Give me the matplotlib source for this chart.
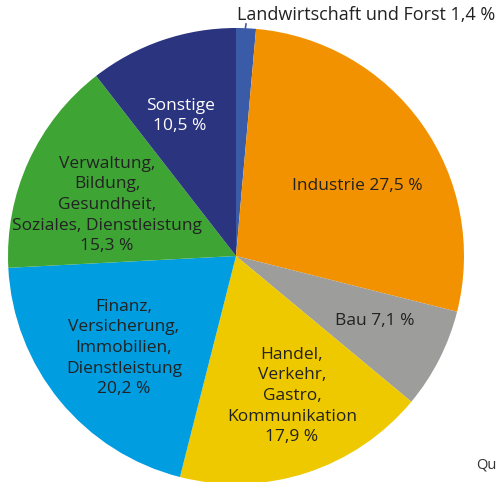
import matplotlib
matplotlib.use("Agg")
import matplotlib.pyplot as plt
import matplotlib.transforms as mtrans

labels = ["Landwirtschaft und Forst 1,4 %", "Industrie 27,5 %", "Bau 7,1 %",
          "Handel,\nVerkehr,\nGastro,\nKommunikation\n17,9 %",
          "Finanz,\nVersicherung,\nImmobilien,\nDienstleistung\n20,2 %",
          "Verwaltung,\nBildung,\nGesundheit,\nSoziales, Dienstleistung\n15,3 %",
          "Sonstige\n10,5 %"]
values = [1.4, 27.5, 7.1, 17.9, 20.2, 15.3, 10.5]
colors = ["#3a5ba8", "#f39200", "#9d9d9c", "#eec900", "#009de0", "#3ea535", "#2a347f"]
text_colors = ["#222222", "#222222", "#222222", "#222222", "#222222", "#222222", "#ffffff"]
label_pos = [(366, 15), (357, 186), (375, 321), (292, 396), (124, 348), (107, 205), (180, 116)]

plt.rcParams['font.family'] = ['Open Sans', 'DejaVu Sans']
fig = plt.figure(figsize=(4.98, 4.82), dpi=100)
ax = fig.add_axes([0, 0, 1, 1])

cx, cy, r = 236, 256, 228
wedges, _ = ax.pie(values, colors=colors, startangle=90, counterclock=False,
                   center=(cx, cy), radius=r, frame=True,
                   wedgeprops=dict(linewidth=0))
flip = mtrans.Affine2D().translate(-cx, -cy).scale(1, -1).translate(cx, cy)
for w in wedges:
    w.set_transform(flip + ax.transData)
ax.set_xlim(0, 498)
ax.set_ylim(482, 0)
ax.set_aspect('equal')
ax.axis('off')

for i, (lab, (x, y), tc) in enumerate(zip(labels, label_pos, text_colors)):
    if i == 0:
        ax.text(237, y, lab, ha='left', va='center', fontsize=13, color=tc)
    else:
        ax.text(x, y, lab, ha='center', va='center', fontsize=12.5, color=tc,
                linespacing=1.38)

ax.plot([246, 245], [24, 31], color="#3a5ba8", lw=1.2)
ax.text(476, 465, "Qu", fontsize=10.5, color="#333333", ha='left', va='center')

fig.savefig("out.png", dpi=100)
